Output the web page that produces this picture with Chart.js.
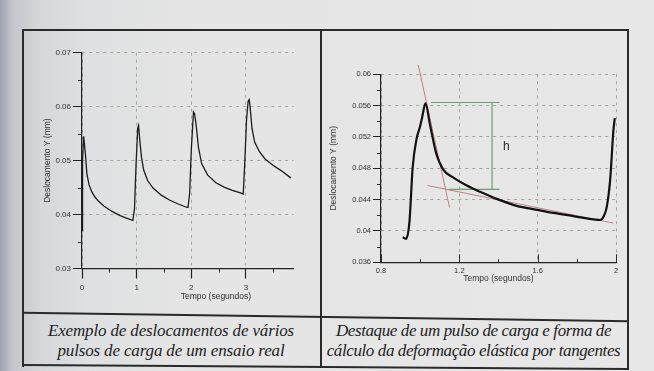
<!DOCTYPE html>
<html>
<head>
<meta charset="utf-8">
<script src="https://cdn.jsdelivr.net/npm/chart.js@4.4.0/dist/chart.umd.min.js"></script>
<style>
html,body{margin:0;padding:0}
body{width:654px;height:371px;overflow:hidden;position:relative;
  background:linear-gradient(to right,#9ea3ac 0px,#c2c5cb 12px,#d5d7da 40px,#dfe0e1 90px,#e5e5e5 200px,#e7e7e7 100%);}
.ln{position:absolute;background:#2a2a2a}
canvas{position:absolute}
.cap{position:absolute;font-family:"Liberation Serif","Times New Roman",serif;font-style:italic;
  font-size:17px;line-height:20px;color:#222;text-align:center;white-space:nowrap;letter-spacing:-0.15px}
</style>
</head>
<body>
<div class="ln" style="left:22px;top:29px;width:607px;height:2px"></div>
<div class="ln" style="left:22px;top:29px;width:1.5px;height:338px"></div>
<div class="ln" style="left:320px;top:29px;width:1.5px;height:339px"></div>
<div class="ln" style="left:627px;top:29px;width:1.5px;height:340px"></div>
<div class="ln" style="left:22px;top:316px;width:607px;height:1.5px;transform:rotate(0.8deg)"></div>
<div class="ln" style="left:22px;top:366px;width:607px;height:2px;transform:rotate(0.4deg)"></div>

<canvas id="c1" width="298" height="284" style="left:22px;top:29px"></canvas>
<canvas id="c2" width="308" height="284" style="left:320px;top:29px"></canvas>

<div class="cap" style="left:22px;top:321px;width:298px">Exemplo de deslocamentos de vários<br>pulsos de carga de um ensaio real</div>
<div class="cap" style="left:320px;top:321px;width:307px;letter-spacing:-0.4px">Destaque de um pulso de carga e forma de<br>cálculo da deformação elástica por tangentes</div>

<script>
// left chart: several load pulses (tempo em segundos, deslocamento em mm)
var leftTime = [0, 0.01, 0.03, 0.06, 0.09, 0.13, 0.18, 0.24, 0.3, 0.4, 0.5, 0.6, 0.7, 0.8, 0.9, 0.93,
  0.96, 0.99, 1.02, 1.035, 1.06, 1.09, 1.13, 1.2, 1.3, 1.45, 1.6, 1.75, 1.9, 1.94,
  1.97, 2.0, 2.04, 2.06, 2.09, 2.13, 2.19, 2.3, 2.45, 2.6, 2.75, 2.9, 2.95,
  2.98, 3.01, 3.04, 3.06, 3.08, 3.11, 3.16, 3.25, 3.35, 3.5, 3.65, 3.82];
var leftDisp = [0.0370, 0.0500, 0.0545, 0.0515, 0.0475, 0.0455, 0.0442, 0.0432, 0.0425, 0.0416, 0.0409, 0.0403, 0.0398, 0.0394, 0.0390, 0.0389,
  0.0410, 0.0495, 0.0560, 0.0565, 0.0535, 0.0505, 0.0482, 0.0463, 0.0449, 0.0436, 0.0427, 0.0420, 0.0414, 0.0413,
  0.0440, 0.0520, 0.0590, 0.0587, 0.0565, 0.0525, 0.0494, 0.0473, 0.0459, 0.0451, 0.0445, 0.0440, 0.0438,
  0.0500, 0.0575, 0.0610, 0.0613, 0.0595, 0.0560, 0.0534, 0.0516, 0.0503, 0.0491, 0.0481, 0.0468];
var leftXTicks = [0, 1, 2, 3];
var leftXMinor = [0.5, 1.5, 2.5, 3.5];
var leftYTicks = [0.03, 0.04, 0.05, 0.06, 0.07];
var leftYMinor = [0.035, 0.045, 0.055, 0.065];

// right chart: one pulse and the tangents
var rightTime = [0.911, 0.928, 0.945, 0.962, 0.982, 0.999, 1.01, 1.027, 1.05, 1.081, 1.119, 1.17, 1.238, 1.306,
  1.391, 1.493, 1.596, 1.681, 1.783, 1.851, 1.919, 1.936, 1.953, 1.97, 1.987, 1.994];
var rightDisp = [0.0392, 0.0390, 0.0411, 0.0482, 0.0518, 0.0533, 0.0545, 0.0563, 0.0536, 0.0500, 0.0478, 0.0468, 0.0458, 0.0450,
  0.0441, 0.0432, 0.0427, 0.0423, 0.0419, 0.0416, 0.0414, 0.0418, 0.0431, 0.0465, 0.0529, 0.0544];
var tanSteepTime = [0.99, 1.15];
var tanSteepDisp = [0.0612, 0.0430];
var tanFlatTime = [1.038, 1.987];
var tanFlatDisp = [0.0458, 0.0410];
var hTopTime = [1.055, 1.405];
var hTopDisp = [0.0564, 0.0564];
var hBotTime = [1.144, 1.405];
var hBotDisp = [0.0453, 0.0453];
var hVertTime = [1.367, 1.367];
var hVertDisp = [0.0564, 0.0453];
var rightXTicks = [0.8, 1.2, 1.6, 2.0];
var rightXMinor = [1.0, 1.4, 1.8];
var rightYTicks = [0.036, 0.04, 0.044, 0.048, 0.052, 0.056, 0.06];
var rightYMinor = [0.038, 0.042, 0.046, 0.05, 0.054, 0.058];

var SANS = '"Liberation Sans", Arial, sans-serif';

function pts(xs, ys) {
    return xs.map(function (x, i) { return {x: x, y: ys[i]}; });
}
function fixTicks(list) {
    return function (s) { s.ticks = list.map(function (v) { return {value: v}; }); };
}

// minor ticks, inward ticks and loose text
var tickMarks = {
    id: 'tickMarks',
    afterDraw: function (chart, args, o) {
        var ctx = chart.ctx, xs = chart.scales.x, ys = chart.scales.y;
        ctx.save();
        ctx.strokeStyle = '#2b2b2b';
        ctx.lineWidth = 1;
        ctx.beginPath();
        (o.xMarks || []).forEach(function (m) {
            m.values.forEach(function (v) {
                var px = Math.round(xs.getPixelForValue(v)) + 0.5;
                ctx.moveTo(px, ys.bottom);
                ctx.lineTo(px, ys.bottom + m.len);
            });
        });
        (o.yMarks || []).forEach(function (m) {
            m.values.forEach(function (v) {
                var py = Math.round(ys.getPixelForValue(v)) + 0.5;
                ctx.moveTo(xs.left, py);
                ctx.lineTo(xs.left - m.len, py);
            });
        });
        ctx.stroke();
        (o.texts || []).forEach(function (t) {
            ctx.font = t.font;
            ctx.fillStyle = '#2a2a2a';
            ctx.textAlign = 'center';
            ctx.textBaseline = 'middle';
            ctx.fillText(t.text, xs.getPixelForValue(t.x), ys.getPixelForValue(t.y));
        });
        ctx.restore();
    }
};
Chart.register(tickMarks);

// left
new Chart(document.getElementById('c1'), {
    type: 'line',
    data: {
        datasets: [{
            data: pts(leftTime, leftDisp),
            borderColor: '#1c1c1c',
            borderWidth: 1.3,
            pointRadius: 0,
            tension: 0
        }]
    },
    options: {
        responsive: false,
        animation: false,
        devicePixelRatio: 1,
        layout: {padding: {top: 23.7, right: 26.5, left: 0, bottom: 0}},
        plugins: {
            legend: {display: false},
            tooltip: {enabled: false},
            tickMarks: {
                xMarks: [{values: leftXMinor, len: 4}],
                yMarks: [{values: leftYMinor, len: 4}],
                texts: [{x: 2.45, y: 0.0247, text: 'Tempo (segundos)', font: '8.5px ' + SANS}]
            }
        },
        scales: {
            x: {
                type: 'linear', min: 0, max: 3.87,
                afterBuildTicks: fixTicks(leftXTicks),
                afterFit: function (s) { s.height = 44.5; },
                ticks: {font: {family: SANS, size: 8}, color: '#333', padding: 4, maxRotation: 0, autoSkip: false,
                    callback: function (v) { return String(v); }},
                grid: {color: '#a3a3a3', lineWidth: 1, drawTicks: true, tickLength: 10, tickColor: '#222', tickWidth: 1.2},
                border: {display: true, color: '#222', width: 1.2, dash: [3, 4]}
            },
            y: {
                type: 'linear', min: 0.03, max: 0.07,
                afterBuildTicks: fixTicks(leftYTicks),
                afterFit: function (s) { s.width = 60; },
                ticks: {font: {family: SANS, size: 8}, color: '#333', padding: 2, autoSkip: false,
                    callback: function (v) { return v.toFixed(2); }},
                grid: {color: '#a3a3a3', lineWidth: 1, drawTicks: true, tickLength: 9, tickColor: '#222', tickWidth: 1},
                border: {display: true, color: '#222', width: 1.2, dash: [3, 4]},
                title: {display: true, text: 'Deslocamento Y (mm)', color: '#333', font: {family: SANS, size: 8.5},
                    padding: {top: 21, bottom: 0}}
            }
        }
    }
});

// right
var thin = {pointRadius: 0, tension: 0, clip: false};
new Chart(document.getElementById('c2'), {
    type: 'line',
    data: {
        datasets: [
            {data: pts(rightTime, rightDisp), borderColor: '#121212', borderWidth: 2.2, pointRadius: 0,
                cubicInterpolationMode: 'monotone', clip: false},
            Object.assign({data: pts(tanSteepTime, tanSteepDisp), borderColor: '#b88484', borderWidth: 1}, thin),
            Object.assign({data: pts(tanFlatTime, tanFlatDisp), borderColor: '#b88484', borderWidth: 1}, thin),
            Object.assign({data: pts(hTopTime, hTopDisp), borderColor: '#6f9f6f', borderWidth: 1.2}, thin),
            Object.assign({data: pts(hBotTime, hBotDisp), borderColor: '#6f9f6f', borderWidth: 1.2}, thin),
            Object.assign({data: pts(hVertTime, hVertDisp), borderColor: '#6f9f6f', borderWidth: 1.2}, thin)
        ]
    },
    options: {
        responsive: false,
        animation: false,
        devicePixelRatio: 1,
        layout: {padding: {top: 45.3, right: 12, left: 0, bottom: 0}},
        plugins: {
            legend: {display: false},
            tooltip: {enabled: false},
            tickMarks: {
                xMarks: [{values: rightXTicks, len: -8}, {values: rightXMinor, len: -3}],
                yMarks: [{values: rightYMinor, len: 4}],
                texts: [{x: 1.44, y: 0.0508, text: 'h', font: '12px ' + SANS}]
            }
        },
        scales: {
            x: {
                type: 'linear', min: 0.8, max: 2.0,
                afterBuildTicks: fixTicks(rightXTicks),
                afterFit: function (s) { s.height = 50.7; },
                ticks: {font: {family: SANS, size: 7.5}, color: '#333', padding: 4, maxRotation: 0, autoSkip: false,
                    callback: function (v) { return String(+v.toFixed(1)); }},
                grid: {color: '#a3a3a3', lineWidth: 1, drawTicks: false},
                border: {display: true, color: '#222', width: 1.2, dash: [3, 4]},
                title: {display: true, text: 'Tempo (segundos)', color: '#333', font: {family: SANS, size: 8.5},
                    padding: {top: 0, bottom: 29.6}}
            },
            y: {
                type: 'linear', min: 0.036, max: 0.06,
                afterBuildTicks: fixTicks(rightYTicks),
                afterFit: function (s) { s.width = 61; },
                ticks: {font: {family: SANS, size: 7.5}, color: '#333', padding: 2, autoSkip: false,
                    callback: function (v) { return String(+v.toFixed(3)); }},
                grid: {color: '#a3a3a3', lineWidth: 1, drawTicks: true, tickLength: 8, tickColor: '#222', tickWidth: 1},
                border: {display: true, color: '#222', width: 1.2, dash: [3, 4]},
                title: {display: true, text: 'Deslocamento Y (mm)', color: '#333', font: {family: SANS, size: 8.5},
                    padding: {top: 8.2, bottom: 0}}
            }
        }
    }
});
</script>
</body>
</html>
